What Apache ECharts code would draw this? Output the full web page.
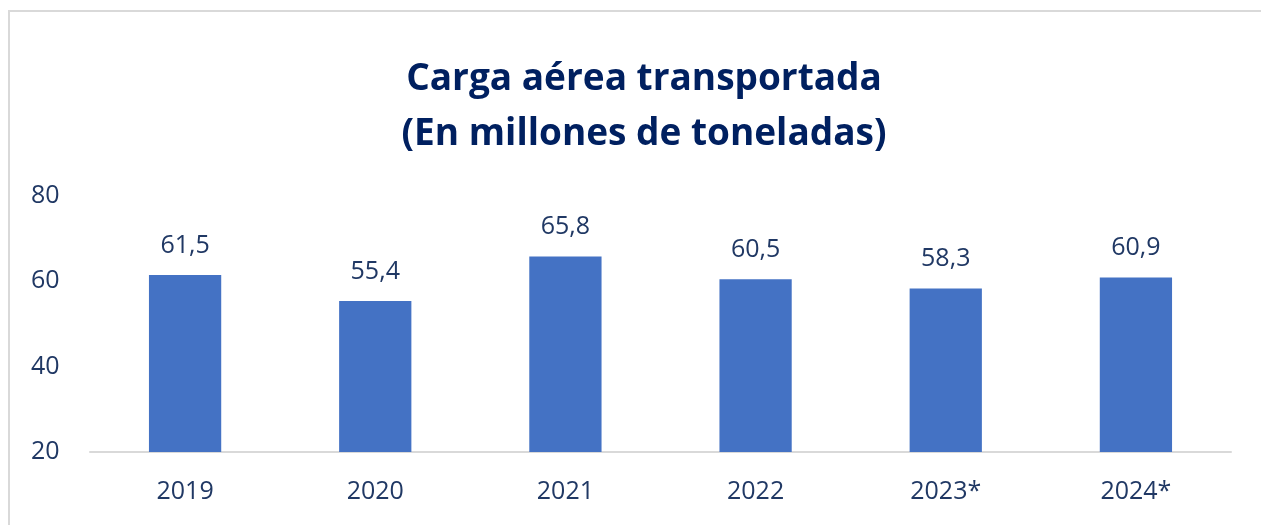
<!DOCTYPE html>
<html>
<head>
<meta charset="utf-8">
<script src="https://cdn.jsdelivr.net/npm/echarts@6/dist/echarts.min.js"></script>
<style>
  html, body { margin: 0; padding: 0; background: #fff; }
  .frame {
    position: absolute; left: 8px; top: 10px; width: 1400px; height: 600px;
    border: 2px solid #d9d9d9; box-sizing: border-box;
  }
  #chart { position: absolute; left: 0; top: 0; width: 1261px; height: 525px; }
</style>
</head>
<body>
<div class="frame"></div>
<div id="chart"></div>
<script>
const years = ['2019', '2020', '2021', '2022', '2023*', '2024*']
const cargo = [61.5, 55.4, 65.8, 60.5, 58.3, 60.9]
const yTicks = [20, 40, 60, 80]

const navy = '#203864'
const font = "'Open Sans', sans-serif"

const chart = echarts.init(document.getElementById('chart'))
chart.setOption({
  animation: false,
  title: {
    text: 'Carga aérea transportada\n(En millones de toneladas)',
    left: 639,
    top: 47,
    textAlign: 'center',
    textStyle: {
      color: '#002060',
      fontFamily: font,
      fontWeight: 'bold',
      fontSize: 37,
      lineHeight: 55
    }
  },
  grid: { left: 90, right: 30, top: 196, bottom: 73 },
  xAxis: {
    type: 'category',
    data: years,
    axisLine: { lineStyle: { color: '#d9d9d9', width: 2 } },
    axisTick: { show: false },
    axisLabel: { color: navy, fontFamily: font, fontSize: 25, margin: 27 }
  },
  yAxis: {
    type: 'value',
    min: yTicks[0],
    max: yTicks[yTicks.length - 1],
    interval: 20,
    splitLine: { show: false },
    axisLine: { show: false },
    axisTick: { show: false },
    axisLabel: {
      color: navy, fontFamily: font, fontSize: 25,
      align: 'left', margin: 59
    }
  },
  series: [{
    type: 'bar',
    data: cargo,
    barWidth: '38%',
    itemStyle: { color: '#4472c4' },
    label: {
      show: true,
      position: 'top',
      distance: 17,
      color: navy,
      fontFamily: font,
      fontSize: 25,
      formatter: p => p.value.toFixed(1).replace('.', ',')
    }
  }]
})
</script>
</body>
</html>
